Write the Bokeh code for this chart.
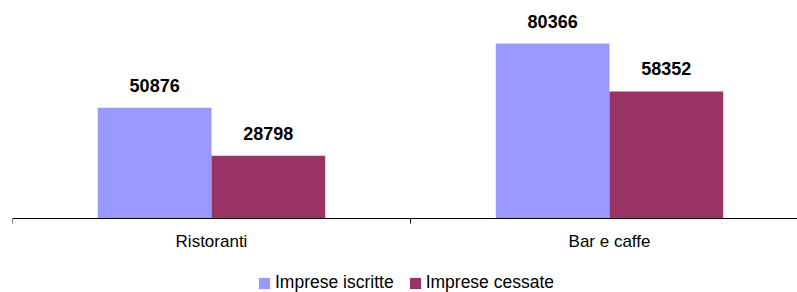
from bokeh.plotting import figure
from bokeh.models import (ColumnDataSource, Range1d, FixedTicker, LabelSet,
                          Legend, LegendItem)
from bokeh.core.properties import value
from bokeh.embed import file_html
from bokeh.resources import INLINE

# ---- data ----
categories = ["Ristoranti", "Bar e caffe"]
iscritte = [50876, 80366]
cessate = [28798, 58352]
series_names = ["Imprese iscritte", "Imprese cessate"]
colors = ["#9999FF", "#993366"]

FONT = "Liberation Sans"
bar_w = 1 / 3.5  # Excel gap width 150%

idx = list(range(len(categories)))
src_a = ColumnDataSource(dict(x=[i - bar_w / 2 for i in idx], top=iscritte,
                              lbl=[str(v) for v in iscritte]))
src_b = ColumnDataSource(dict(x=[i + bar_w / 2 for i in idx], top=cessate,
                              lbl=[str(v) for v in cessate]))

unit = 80366 / 175  # data units per pixel
p = figure(frame_width=785, frame_height=284, output_backend="svg", toolbar_location=None,
           x_range=Range1d(-0.5, -0.5 + 785 / 398),
           y_range=Range1d(-74 * unit, 210 * unit),
           y_axis_location=None,
           min_border_left=12, min_border_right=0, min_border_top=8,
           min_border_bottom=0)
p.outline_line_color = None
p.grid.visible = False
p.background_fill_color = "white"
p.border_fill_color = "white"

ra = p.vbar(x="x", top="top", width=bar_w, bottom=0, source=src_a,
            fill_color=colors[0], line_color=None)
rb = p.vbar(x="x", top="top", width=bar_w, bottom=0, source=src_b,
            fill_color=colors[1], line_color=None)

for s in (src_a, src_b):
    p.add_layout(LabelSet(x="x", y="top", text="lbl", source=s, y_offset=16,
                          text_align="center", text_baseline="alphabetic",
                          text_font=value(FONT), text_font_size=value("18px"),
                          text_font_style="bold", text_color="black"))

ax = p.xaxis[0]
ax.fixed_location = 0
ax.ticker = FixedTicker(ticks=idx, minor_ticks=[i - 0.5 for i in idx] + [len(idx) - 0.5])
ax.major_label_overrides = {i: c for i, c in zip(idx, categories)}
ax.major_tick_out = 0
ax.major_tick_in = 0
ax.minor_tick_out = 5
ax.minor_tick_in = 0
ax.minor_tick_line_color = "black"
ax.axis_line_color = "black"
ax.major_label_text_font = FONT
ax.major_label_text_font_size = "17px"
ax.major_label_text_color = "black"
ax.major_label_standoff = 8

legend = Legend(items=[LegendItem(label=series_names[0], renderers=[ra]),
                       LegendItem(label=series_names[1], renderers=[rb])],
                orientation="horizontal", location=(245, -1),
                label_text_font=FONT, label_text_font_size="17.5px",
                label_text_color="black", glyph_width=14, glyph_height=14,
                label_height=17,
                label_standoff=4, spacing=14, padding=0, margin=0,
                border_line_color=None, background_fill_alpha=0)
p.add_layout(legend, "center")

open("out.html", "w").write(file_html(p, INLINE))
